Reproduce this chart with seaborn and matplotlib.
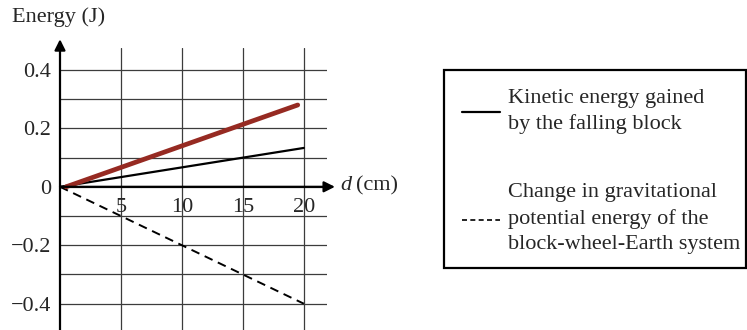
import matplotlib
matplotlib.use("Agg")
import matplotlib.pyplot as plt
from matplotlib.lines import Line2D
from matplotlib.patches import Rectangle
import seaborn as sns
import pandas as pd

# Energy versus fall distance d (cm)
ke_d = [0, 20]
ke_energy = [0.0, 0.133]          # kinetic energy gained by the falling block
pe_d = [0, 20]
pe_energy = [0.0, -0.4]           # change in gravitational potential energy
red_d = [0.5, 19.5]
red_energy = [0.0, 0.28]          # highlighted line

x_ticks = [5, 10, 15, 20]
y_ticks = [-0.4, -0.2, 0.0, 0.2, 0.4]
y_tick_labels = ["\u22120.4", "\u22120.2", "0", "0.2", "0.4"]
y_minor = [-0.3, -0.1, 0.1, 0.3]
legend_ke = ["Kinetic energy gained", "by the falling block"]
legend_pe = ["Change in gravitational", "potential energy of the",
             "block-wheel-Earth system"]

sns.set_style("white")
plt.rcParams["font.family"] = ["Liberation Serif", "DejaVu Serif"]
FS = 16

W, H = 747, 330
fig = plt.figure(figsize=(W / 100, H / 100), dpi=100)

# main axes placed in pixel units
x0_px, x1_px = 60, 327
y_top_px, y_bot_px = 48, 330
ax = fig.add_axes([x0_px / W, 1 - y_bot_px / H, (x1_px - x0_px) / W,
                   (y_bot_px - y_top_px) / H])

ke_df = pd.DataFrame({"d": ke_d, "E": ke_energy})
pe_df = pd.DataFrame({"d": pe_d, "E": pe_energy})
red_df = pd.DataFrame({"d": red_d, "E": red_energy})

sns.lineplot(data=ke_df, x="d", y="E", ax=ax, color="black", lw=1.6, zorder=4)
sns.lineplot(data=pe_df, x="d", y="E", ax=ax, color="black", lw=1.4,
             linestyle=(0, (4.5, 3)), zorder=4)
sns.lineplot(data=red_df, x="d", y="E", ax=ax, color="#962A22", lw=3.4,
             solid_capstyle="round", zorder=5)

ax.set_xlabel("")
ax.set_ylabel("")

# x axis runs through zero; spines hidden, arrows drawn below
for s in ax.spines.values():
    s.set_visible(False)
ax.spines["bottom"].set_position(("data", 0))

ax.set_xlim(0, 21.9)
ax.set_ylim(-0.49, 0.475)

# grid and tick labels
ax.set_xticks(x_ticks)
ax.set_xticklabels([str(t) for t in x_ticks], fontsize=FS)
ax.set_yticks(y_ticks)
ax.set_yticklabels(y_tick_labels, fontsize=FS)
ax.set_yticks(y_minor, minor=True)
ax.grid(True, which="both", color="#3c3c3c", lw=0.9)
ax.set_axisbelow(True)

ax.tick_params(axis="x", length=0, pad=8, labelsize=FS)
ax.tick_params(axis="y", which="major", length=4.5, width=1.0, color="black",
               direction="out", pad=2, labelsize=FS)
ax.tick_params(axis="y", which="minor", length=0)

# axes with arrows
arrow = dict(arrowstyle="-|>", lw=1.6, color="black", mutation_scale=16,
             shrinkA=0, shrinkB=0)
ax.annotate("", xy=(0, 0.505), xytext=(0, -0.49), arrowprops=arrow,
            annotation_clip=False, zorder=6)
ax.annotate("", xy=(22.55, 0), xytext=(0, 0), arrowprops=arrow,
            annotation_clip=False, zorder=6)

# overlay in pixel coordinates for titles and legend
ov = fig.add_axes([0, 0, 1, 1], facecolor="none")
ov.set_xlim(0, W)
ov.set_ylim(H, 0)
ov.axis("off")

ov.text(12, 17, "Energy (J)", fontsize=FS, ha="left", va="center")
ov.text(340, 186, "d", fontsize=FS, fontstyle="italic", ha="left", va="center")
ov.text(356, 186, "(cm)", fontsize=FS, ha="left", va="center")

ov.add_patch(Rectangle((444, 70), 302, 198, fill=False, ec="black", lw=1.6))
ov.add_line(Line2D([462, 500], [112, 112], color="black", lw=1.6))
ov.add_line(Line2D([462, 500], [220, 220], color="black", lw=1.2,
                   linestyle=(0, (3, 2))))
for i, line in enumerate(legend_ke):
    ov.text(508, 98 + 26 * i, line, fontsize=FS, ha="left", va="center")
for i, line in enumerate(legend_pe):
    ov.text(508, 193 + 26 * i, line, fontsize=FS, ha="left", va="center")

fig.savefig("out.png", dpi=100)
